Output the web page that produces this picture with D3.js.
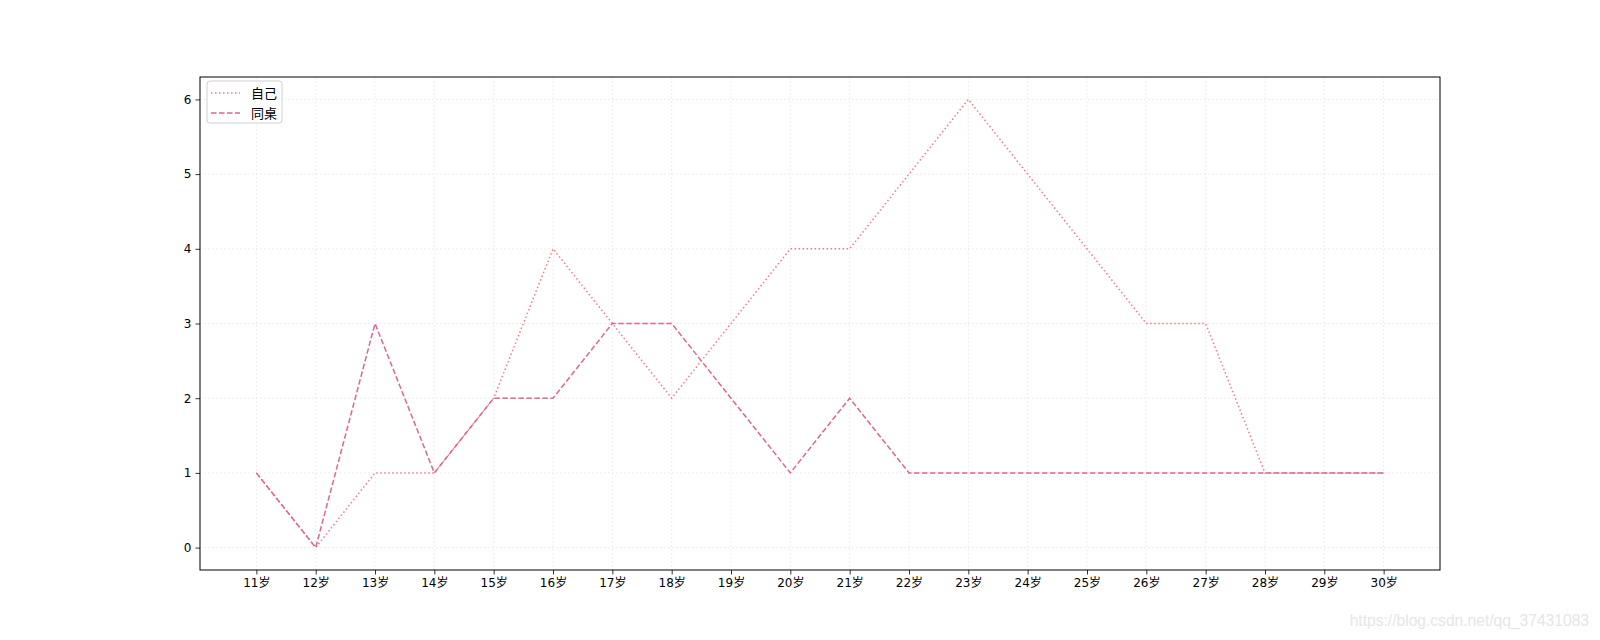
<!DOCTYPE html>
<html>
<head>
<meta charset="utf-8">
<script src="https://cdn.jsdelivr.net/npm/d3@7"></script>
<style>
  body { margin: 0; background: #fff; }
  svg { display: block; }
  text { font-family: "DejaVu Sans", "Noto Sans CJK SC", sans-serif; }
</style>
</head>
<body>
<svg id="chart" width="1600" height="640"></svg>
<script>
const ages = [11,12,13,14,15,16,17,18,19,20,21,22,23,24,25,26,27,28,29,30];
const ageLabels = ages.map(a => a + "岁");
const selfValues = [1,0,1,1,2,4,3,2,3,4,4,5,6,5,4,3,3,1,1,1];
const deskmateValues = [1,0,3,1,2,2,3,3,2,1,2,1,1,1,1,1,1,1,1,1];
const yTicks = [0,1,2,3,4,5,6];
const seriesNames = ["自己", "同桌"];

(function () {
const svg = d3.select("#chart");
const mLeft = 200, mRight = 1440, mTop = 77, mBottom = 570;

const x = d3.scaleLinear().domain([11 - 0.95, 30 + 0.95]).range([mLeft, mRight]);
const y = d3.scaleLinear().domain([-0.3, 6.3]).range([mBottom, mTop]);

const fontStack = '"DejaVu Sans", "Noto Sans CJK SC", sans-serif';

// grid
const grid = svg.append("g");
grid.selectAll("line.vx").data(ages).enter().append("line")
  .attr("x1", d => x(d)).attr("x2", d => x(d))
  .attr("y1", mTop).attr("y2", mBottom)
  .attr("stroke", "#e3e3e3").attr("stroke-width", 0.8).attr("stroke-dasharray", "1.5,2.5");
grid.selectAll("line.hy").data(yTicks).enter().append("line")
  .attr("x1", mLeft).attr("x2", mRight)
  .attr("y1", d => y(d)).attr("y2", d => y(d))
  .attr("stroke", "#e3e3e3").attr("stroke-width", 0.8).attr("stroke-dasharray", "1.5,2.5");

// lines
const lineGen = vals => d3.line().x((d, i) => x(ages[i])).y(d => y(d))(vals);
svg.append("path").attr("d", lineGen(selfValues))
  .attr("fill", "none").attr("stroke", "#F47C7C").attr("stroke-width", 1.5)
  .attr("stroke-dasharray", "1.5,2.5");
svg.append("path").attr("d", lineGen(deskmateValues))
  .attr("fill", "none").attr("stroke", "#E0668C").attr("stroke-width", 1.5)
  .attr("stroke-dasharray", "5.5,2.5");

// axes
const xAxis = d3.axisBottom(x).tickValues(ages).tickFormat((d, i) => ageLabels[i]).tickSizeOuter(0).tickSize(4.5).tickPadding(4);
const gx = svg.append("g").attr("transform", `translate(0,${mBottom})`).call(xAxis);
gx.select(".domain").remove();
gx.selectAll("text").attr("font-size", 12).attr("fill", "#000").style("font-family", fontStack);
gx.selectAll("line").attr("stroke", "#000").attr("stroke-width", 0.8);

const yAxis = d3.axisLeft(y).tickValues(yTicks).tickFormat(d3.format("d")).tickSizeOuter(0).tickSize(4.5).tickPadding(4);
const gy = svg.append("g").attr("transform", `translate(${mLeft},0)`).call(yAxis);
gy.select(".domain").remove();
gy.selectAll("text").attr("font-size", 12).attr("fill", "#000").style("font-family", fontStack);
gy.selectAll("line").attr("stroke", "#000").attr("stroke-width", 0.8);

// frame
svg.append("rect").attr("x", mLeft).attr("y", mTop).attr("width", mRight - mLeft).attr("height", mBottom - mTop)
  .attr("fill", "none").attr("stroke", "#000").attr("stroke-width", 1);

// legend
const lg = svg.append("g").attr("transform", `translate(207,81)`);
lg.append("rect").attr("x", 0).attr("y", 0).attr("width", 75).attr("height", 42).attr("rx", 3)
  .attr("fill", "#fff").attr("fill-opacity", 0.8).attr("stroke", "#d0d0d0").attr("stroke-width", 1);
const styles = [{c: "#F47C7C", d: "1.5,2.5"}, {c: "#E0668C", d: "5.5,2.5"}];
seriesNames.forEach((n, i) => {
  const yy = 12 + i * 20;
  lg.append("line").attr("x1", 4).attr("x2", 33).attr("y1", yy).attr("y2", yy)
    .attr("stroke", styles[i].c).attr("stroke-width", 1.5).attr("stroke-dasharray", styles[i].d);
  lg.append("text").attr("x", 44).attr("y", yy).attr("dy", "0.35em").attr("font-size", 13)
    .style("font-family", '"Noto Sans CJK SC", sans-serif').text(n);
});

// watermark
svg.append("text").attr("x", 1589).attr("y", 626).attr("text-anchor", "end")
  .attr("font-size", 15.6).attr("fill", "#e6e6e6").style("font-family", '"Liberation Sans", sans-serif')
  .text("https://blog.csdn.net/qq_37431083");
})();
</script>
</body>
</html>
